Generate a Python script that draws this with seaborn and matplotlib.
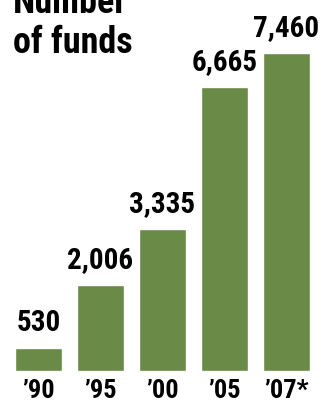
import matplotlib
matplotlib.use("Agg")
import matplotlib.pyplot as plt
import seaborn as sns
import pandas as pd

years = ["’90", "’95", "’00", "’05", "’07*"]
funds = [530, 2006, 3335, 6665, 7460]
value_labels = ["530", "2,006", "3,335", "6,665", "7,460"]

sns.set_style("white")
plt.rcParams['font.family'] = ['Roboto Condensed', 'Roboto', 'DejaVu Sans']

W, H = 327, 407
fig = plt.figure(figsize=(W / 100, H / 100), dpi=100)
fig.patch.set_facecolor("white")

# axes: bars bottom at 371 px from top, full width
ax = fig.add_axes([0, (H - 371) / H, 1, 371 / H])
df = pd.DataFrame({"year": years, "funds": funds})
sns.barplot(data=df, x="year", y="funds", color="#6a8a47", saturation=1,
            width=0.758, ax=ax)

ax.set_xlim(-38.5 / 62, (W - 38.5) / 62)
ax.set_ylim(0, 8703)
ax.set_facecolor("none")
for s in ax.spines.values():
    s.set_visible(False)
ax.set_yticks([])
ax.set_xlabel("")
ax.set_ylabel("")
ax.tick_params(axis="x", length=0, pad=6)
ax.set_xticks(range(len(years)))
ax.set_xticklabels(years, fontsize=19, fontweight="bold", color="black")

for i, (v, lab) in enumerate(zip(funds, value_labels)):
    ax.annotate(lab, (i, v), xytext=(0, 8), textcoords="offset points",
                ha="center", va="bottom", fontsize=21, fontweight="bold",
                color="black")

fig.text(13 / W, 1 - 13 / H, "Number", ha="left", va="baseline",
         fontsize=26, fontweight="bold", color="black")
fig.text(13 / W, 1 - 53 / H, "of funds", ha="left", va="baseline",
         fontsize=26, fontweight="bold", color="black")

fig.savefig("out.png", dpi=100, facecolor="white")
